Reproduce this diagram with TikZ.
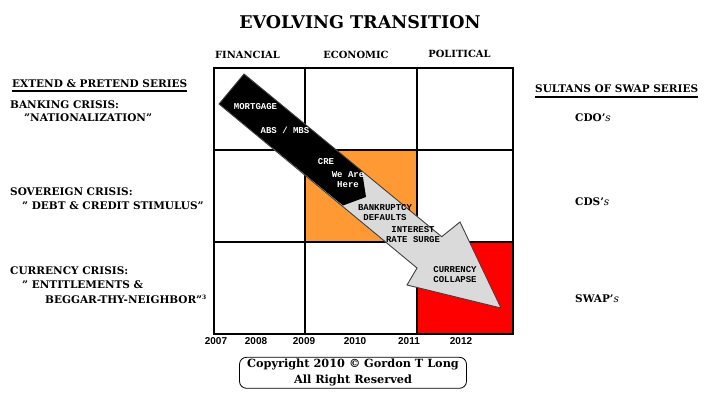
\documentclass[tikz,border=0pt]{standalone}
\usepackage{fontspec}
\setmainfont{DejaVu Serif}
\newfontfamily\monof{Liberation Mono}
\newfontfamily\sansf{Liberation Sans}
\definecolor{cellorange}{RGB}{255,153,51}
\definecolor{cellred}{RGB}{255,0,0}
\definecolor{arrowgray}{RGB}{218,218,218}
\newcommand{\dq}{\symbol{34}}
\newcommand{\sq}{\symbol{39}}
\begin{document}
\begin{tikzpicture}[x=1pt,y=-1pt,
  txt/.style={anchor=base west, inner sep=0pt, font=\bfseries\fontsize{10.5}{12}\selectfont},
  hdr/.style={anchor=base, inner sep=0pt, font=\bfseries\fontsize{9.9}{11}\selectfont},
  yr/.style={anchor=base, inner sep=0pt, font=\sansf\bfseries\fontsize{10}{12}\selectfont},
  arrlbl/.style={inner sep=0pt, font=\monof\bfseries\fontsize{9}{10}\selectfont, align=center},
  cpy/.style={anchor=base, inner sep=0pt, font=\bfseries\fontsize{11.3}{13}\selectfont},
  gridline/.style={line width=1.3pt},
  uline/.style={line width=1.6pt}]
\useasboundingbox (0,0) rectangle (709,396);
\fill[white] (0,0) rectangle (709,396);

% title
\node[anchor=base, inner sep=0pt, font=\bfseries\fontsize{17.5}{20}\selectfont] (title) at (360,28.3) {EVOLVING TRANSITION};

% column headers
\node[hdr] (fin) at (247.5,58.3) {FINANCIAL};
\node[hdr] (eco) at (356,58.3) {ECONOMIC};
\node[hdr] (pol) at (459.5,57.3) {POLITICAL};

% cells
\fill[cellorange] (305,150) rectangle (417,242);
\fill[cellred] (417,242) rectangle (513,334);
\draw[gridline] (214,68) rectangle (513,334);
\draw[gridline] (305,68) -- (305,334);
\draw[gridline] (417,68) -- (417,334);
\draw[gridline] (214,150) -- (513,150);
\draw[gridline] (214,242) -- (513,242);

% arrow
\coordinate (a1) at (244,74);
\coordinate (a2) at (441.7,236.7);
\coordinate (a3) at (460,222);
\coordinate (a4) at (501,308);
\coordinate (a5) at (407,285);
\coordinate (a6) at (417,268);
\coordinate (a7) at (219,104);
\fill[arrowgray] (a1) -- (a2) -- (a3) -- (a4) -- (a5) -- (a6) -- (a7) -- cycle;
\fill[black] (a1) -- (362,171) -- (366,197) -- (343,205.5) -- (a7) -- cycle;
\draw[black!75, line width=0.9pt, line join=miter] (a1) -- (a2) -- (a3) -- (a4) -- (a5) -- (a6) -- (a7) -- cycle;

% arrow labels
\node[arrlbl, text=white] (mort) at (255.5,107) {MORTGAGE};
\node[arrlbl, text=white] (abs) at (285,130) {ABS / MBS};
\node[arrlbl, text=white] (cre) at (326,162) {CRE};
\node[arrlbl, text=white] (here) at (348,179.5) {We Are\\Here};
\node[arrlbl] (bank) at (385,213) {BANKRUPTCY\\DEFAULTS};
\node[arrlbl] (rate) at (413,235) {INTEREST\\RATE SURGE};
\node[arrlbl] (curr) at (455,275) {CURRENCY\\COLLAPSE};

% left labels
\node[txt] (eps) at (12,87) {EXTEND \& PRETEND SERIES};
\draw[uline] (eps.south west |- 0,90.7) -- (eps.south east |- 0,90.7);
\node[txt] (bc) at (10,108) {BANKING CRISIS:};
\node[txt] (nat) at (24,121) {\dq NATIONALIZATION\dq};
\node[txt] (sc) at (10,195) {SOVEREIGN CRISIS:};
\node[txt] (dcs) at (22,209.3) {\dq\ DEBT \& CREDIT STIMULUS\dq};
\node[txt] (cc) at (10,274.3) {CURRENCY CRISIS:};
\node[txt] (ent) at (22,288.3) {\dq\ ENTITLEMENTS \&};
\node[txt] (btn) at (45,303.3) {BEGGAR-THY-NEIGHBOR\dq\textsuperscript{\fontsize{6}{6}\selectfont 3}};

% right labels
\node[txt] (sos) at (535,92.3) {SULTANS OF SWAP SERIES};
\draw[uline] (sos.south west |- 0,96.7) -- (sos.south east |- 0,96.7);
\node[txt] (cdo) at (575,121.7) {CDO\sq\textit{\mdseries s}};
\node[txt] (cds) at (575,205) {CDS\sq\textit{\mdseries s}};
\node[txt] (swap) at (575,302) {SWAP\sq\textit{\mdseries s}};

% years
\node[yr] (y07) at (216,344.3) {2007};
\node[yr] (y08) at (256,344.3) {2008};
\node[yr] (y09) at (304,344.3) {2009};
\node[yr] (y10) at (355,344.3) {2010};
\node[yr] (y11) at (409,344.3) {2011};
\node[yr] (y12) at (461,344.3) {2012};

% copyright
\draw[line width=0.8pt, rounded corners=7pt] (239.5,357.3) rectangle (466.5,388.3);
\node[cpy] (copy1) at (353,367.7) {Copyright 2010 © Gordon T Long};
\node[cpy] (copy2) at (353,383.3) {All Right Reserved};
\end{tikzpicture}
\end{document}
